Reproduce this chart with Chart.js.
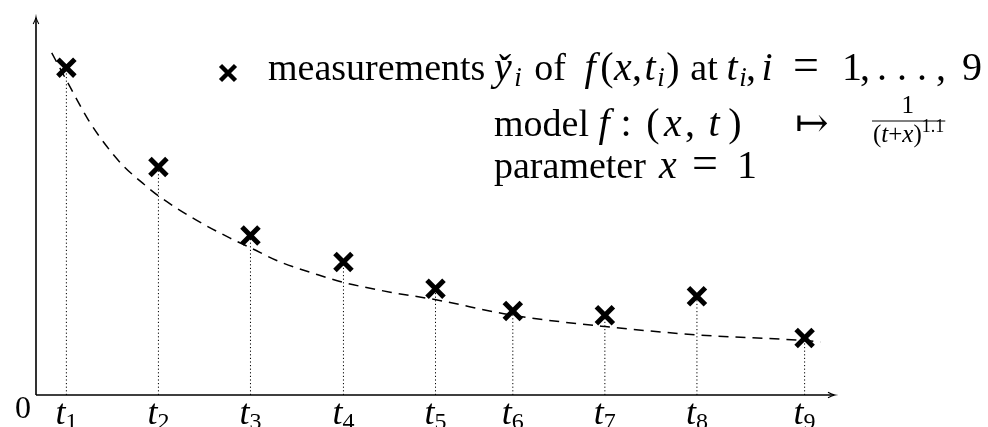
<!DOCTYPE html>
<html>
<head>
<meta charset="utf-8">
<script src="https://cdn.jsdelivr.net/npm/chart.js@4"></script>
<style>
  html, body { margin: 0; padding: 0; background: #fff; }
</style>
</head>
<body>
<canvas id="graphCanvas" width="988" height="427"></canvas>
<script>
const ctx = document.getElementById('graphCanvas').getContext('2d');

// measurement times t_i (x axis units)
const tValues = [0.33, 1.33, 2.33, 3.34, 4.34, 5.18, 6.18, 7.18, 8.35];
const tickSubs = ['1', '2', '3', '4', '5', '6', '7', '8', '9'];
// measured values y_i
const measured = [0.866, 0.603, 0.422, 0.352, 0.281, 0.222, 0.211, 0.261, 0.151];
// model curve
const modelT = [0.171, 0.37, 0.568, 0.768, 0.949, 1.166, 1.329, 1.747, 2.109, 2.334, 2.652, 3.051, 3.34, 3.848, 4.345, 5.177, 6.182, 7.182, 8.351, 8.522];
const modelY = [0.905, 0.815, 0.728, 0.658, 0.606, 0.559, 0.527, 0.462, 0.415, 0.389, 0.352, 0.319, 0.298, 0.272, 0.252, 0.211, 0.181, 0.159, 0.144, 0.140];
const xMax = 8.68;
const yMax = 1.0;

const serif = '"Liberation Serif", "DejaVu Serif", serif';
const R = '38px ' + serif;       // text
const M = '40px ' + serif;       // upright math
const I = 'italic 40px ' + serif; // math italic
const S = 'italic 27px ' + serif; // subscript

// stems: segments from axis up to each measurement, broken by nulls
const stems = [];
tValues.forEach((t, i) => {
    stems.push({ x: t, y: 0 }, { x: t, y: measured[i] }, { x: t, y: null });
});

// parts: [text, font, dy, centre x (optional)]
function drawRuns(c, x, y, parts) {
    parts.forEach(p => {
        c.font = p[1];
        const w = c.measureText(p[0]).width;
        if (p[3] !== undefined) x = p[3] - w / 2;
        c.fillText(p[0], x, y + (p[2] || 0));
        x += w;
    });
    return x;
}

function drawX(c, x, y, r, w) {
    c.save();
    c.lineWidth = w;
    c.strokeStyle = '#000';
    c.beginPath();
    c.moveTo(x - r, y - r); c.lineTo(x + r, y + r);
    c.moveTo(x + r, y - r); c.lineTo(x - r, y + r);
    c.stroke();
    c.restore();
}

const decorations = {
    id: 'decorations',
    afterDraw(chart) {
        const c = chart.ctx;
        const a = chart.chartArea;
        const xs = chart.scales.x;
        c.save();
        c.fillStyle = '#000';
        c.strokeStyle = '#000';

        // axes with arrow heads
        c.lineWidth = 1.6;
        c.beginPath();
        c.moveTo(a.left, a.bottom); c.lineTo(a.left, a.top + 1);
        c.moveTo(a.left, a.bottom); c.lineTo(a.right - 1, a.bottom);
        c.stroke();
        c.lineWidth = 1.1;
        c.beginPath();
        c.moveTo(a.left - 2.8, a.top + 7); c.quadraticCurveTo(a.left - 0.5, a.top + 3, a.left, a.top);
        c.quadraticCurveTo(a.left + 0.5, a.top + 3, a.left + 2.8, a.top + 7);
        c.moveTo(a.right - 7, a.bottom - 2.8); c.quadraticCurveTo(a.right - 3, a.bottom - 0.5, a.right, a.bottom);
        c.quadraticCurveTo(a.right - 3, a.bottom + 0.5, a.right - 7, a.bottom + 2.8);
        c.stroke();

        // tick labels t_i
        c.textBaseline = 'alphabetic';
        const TF = 'italic 36px ' + serif, SF = '24px ' + serif;
        tValues.forEach((t, i) => {
            const px = xs.getPixelForValue(t);
            c.font = TF;
            const w1 = c.measureText('t').width;
            c.font = SF;
            const w2 = c.measureText(tickSubs[i]).width;
            drawRuns(c, px - (w1 + w2) / 2, 424, [['t', TF], [tickSubs[i], SF, 5]]);
        });
        c.font = '32px ' + serif;
        c.fillText('0', 15, 418);

        // legend, line 1
        drawX(c, 228, 73, 7.5, 4.4);
        drawRuns(c, 268, 80, [
            ['measurements', R],
            ['y\u030C', I, 0, 503], ['i', S, 6, 518],
            ['of', R, 0, 550],
            ['f', I, 0, 590], ['(', M, 0, 607], ['x', I, 0, 623], [',', M, 0, 637],
            ['t', I, 0, 650], ['i', S, 6, 661], [')', M, 0, 673],
            ['at', R, 0, 704],
            ['t', I, 0, 732], ['i', S, 6, 743], [',', M, 0, 751],
            ['i', I, 0, 767], ['=', '46px ' + serif, 0, 806],
            ['1', M, 0, 852], [',', M, 0, 865], ['.', M, 0, 882], ['.', M, 0, 902], ['.', M, 0, 922],
            [',', M, 0, 941], ['9', M, 0, 972]
        ]);
        // line 2
        drawRuns(c, 494, 136, [
            ['model', R], ['f', I, 0, 604], [':', M, 0, 626],
            ['(', M, 0, 653], ['x', I, 0, 673], [',', M, 0, 690], ['t', I, 0, 714], [')', M, 0, 735],
            ['\u21A6', M, 0, 812]
        ]);
        // fraction 1 / (t+x)^1.1
        const F = '25px ' + serif, FI = 'italic 25px ' + serif, FS = '18px ' + serif;
        const denom = [['(', F], ['t', FI], ['+', F], ['x', FI], [')', F], ['1.1', FS, -10]];
        let dw = 0;
        denom.forEach(p => { c.font = p[1]; dw += c.measureText(p[0]).width; });
        const fx = 872;
        c.font = F;
        c.textAlign = 'center';
        c.fillText('1', fx + dw / 2, 113);
        c.textAlign = 'left';
        c.lineWidth = 1.2;
        c.beginPath(); c.moveTo(fx, 121); c.lineTo(fx + dw + 2, 121); c.stroke();
        drawRuns(c, fx + 1, 142, denom);
        // line 3
        drawRuns(c, 494, 178, [['parameter', R], ['x', I, 0, 668], ['=', '46px ' + serif, 0, 705], ['1', M, 0, 747]]);
        c.restore();
    }
};

new Chart(ctx, {
    type: 'scatter',
    data: {
        datasets: [
            {
                label: 'measurements',
                data: tValues.map((t, i) => ({ x: t, y: measured[i] })),
                pointStyle: 'crossRot',
                pointRadius: 12,
                pointBorderWidth: 5,
                borderColor: '#000',
                backgroundColor: '#000',
                showLine: false,
                clip: false
            },
            {
                label: 'model',
                data: modelT.map((t, i) => ({ x: t, y: modelY[i] })),
                showLine: true,
                borderColor: '#000',
                borderWidth: 1.5,
                borderDash: [10, 7],
                pointRadius: 0,
                cubicInterpolationMode: 'monotone',
                fill: false,
                clip: false
            },
            {
                label: 'stems',
                data: stems,
                showLine: true,
                spanGaps: false,
                borderColor: '#000',
                borderWidth: 1,
                borderDash: [1.2, 2.4],
                pointRadius: 0,
                fill: false
            }
        ]
    },
    options: {
        responsive: false,
        animation: false,
        events: [],
        layout: { padding: { left: 36, top: 12, right: 153, bottom: 32 } },
        scales: {
            x: { type: 'linear', min: 0, max: xMax, display: false },
            y: { type: 'linear', min: 0, max: yMax, display: false }
        },
        plugins: {
            legend: { display: false },
            tooltip: { enabled: false }
        }
    },
    plugins: [decorations]
});
</script>
</body>
</html>
